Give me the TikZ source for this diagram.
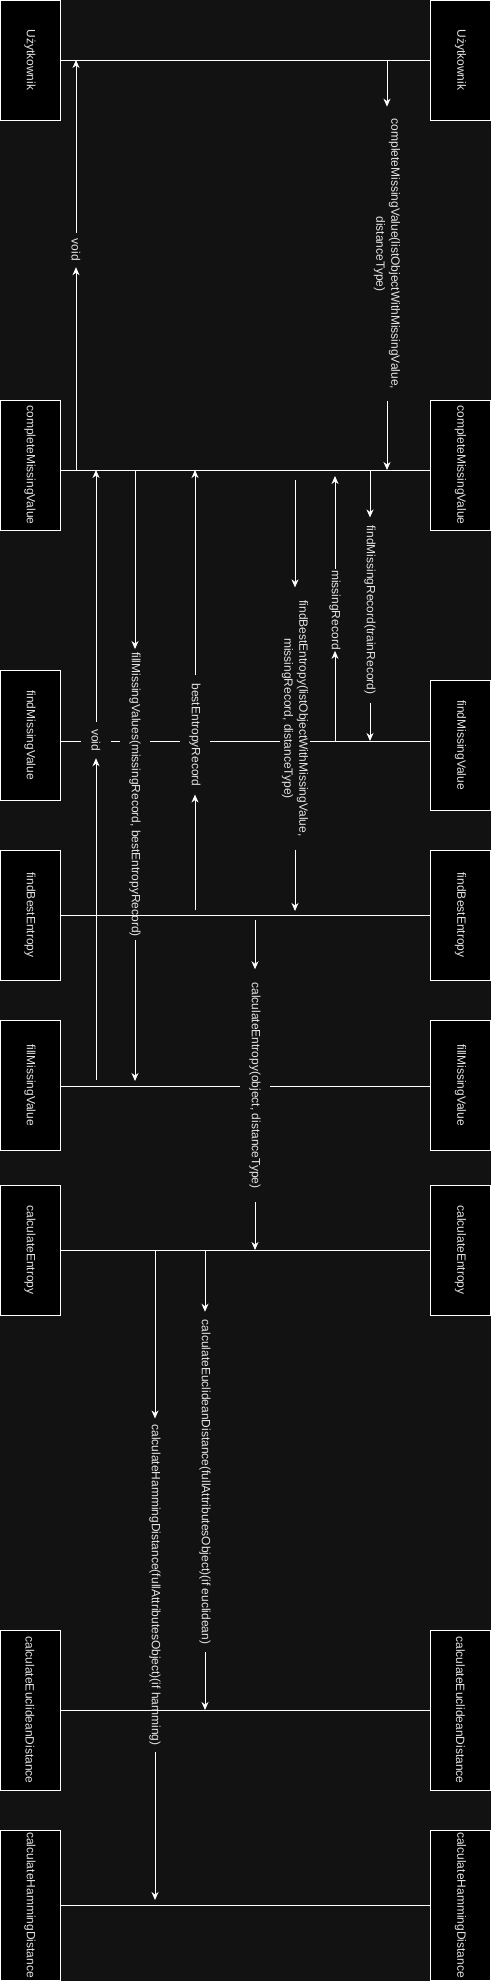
\documentclass[tikz,border=0pt]{standalone}
\usepackage{fontspec}
\setmainfont{Liberation Sans}
\usepackage{graphicx}
\usetikzlibrary{arrows.meta}
\definecolor{bgc}{RGB}{18,18,18}
\definecolor{txtc}{RGB}{228,228,228}

\begin{document}
\begin{tikzpicture}[x=1pt,y=-1pt,
  lifebox/.style={draw=white, line width=1pt, fill=black, text=txtc,
    minimum width=60pt, inner sep=0pt, font=\fontsize{12}{15}\selectfont},
  msglbl/.style={rotate=-90, fill=bgc, text=txtc, inner xsep=#1, inner ysep=0pt,
    minimum height=30pt, align=center, font=\fontsize{12}{15}\selectfont},
  msglbl/.default=6pt,
  rowline/.style={draw=white, line width=1pt},
  msg/.style={draw=white, line width=1pt, -{Stealth[length=8pt,width=7pt,inset=2.5pt]}}]

  \fill[bgc] (0,0) rectangle (491,1981);
  \useasboundingbox (0,0) rectangle (491,1981);

  %% lifelines, left side
  \node[lifebox, minimum height=120pt] (uL)   at (30,60)   {\rotatebox{-90}{Użytkownik}};
  \node[lifebox, minimum height=130pt] (cmvL) at (30,465)  {\rotatebox{-90}{completeMissingValue}};
  \node[lifebox, minimum height=130pt] (fmvL) at (30,735)  {\rotatebox{-90}{findMissingValue}};
  \node[lifebox, minimum height=130pt] (fbeL) at (30,915)  {\rotatebox{-90}{findBestEntropy}};
  \node[lifebox, minimum height=130pt] (filL) at (30,1085) {\rotatebox{-90}{fillMissingValue}};
  \node[lifebox, minimum height=130pt] (ceL)  at (30,1250) {\rotatebox{-90}{calculateEntropy}};
  \node[lifebox, minimum height=160pt] (eucL) at (30,1710) {\rotatebox{-90}{calculateEuclideanDistance}};
  \node[lifebox, minimum height=150pt] (hamL) at (30,1905) {\rotatebox{-90}{calculateHammingDistance}};

  %% lifelines, right side
  \node[lifebox, minimum height=120pt] (uR)   at (460.5,60)   {\rotatebox{-90}{Użytkownik}};
  \node[lifebox, minimum height=130pt] (cmvR) at (460.5,465)  {\rotatebox{-90}{completeMissingValue}};
  \node[lifebox, minimum height=130pt] (fmvR) at (460.5,745)  {\rotatebox{-90}{findMissingValue}};
  \node[lifebox, minimum height=130pt] (fbeR) at (460.5,915)  {\rotatebox{-90}{findBestEntropy}};
  \node[lifebox, minimum height=130pt] (filR) at (460.5,1085) {\rotatebox{-90}{fillMissingValue}};
  \node[lifebox, minimum height=130pt] (ceR)  at (460.5,1250) {\rotatebox{-90}{calculateEntropy}};
  \node[lifebox, minimum height=160pt] (eucR) at (460.5,1710) {\rotatebox{-90}{calculateEuclideanDistance}};
  \node[lifebox, minimum height=150pt] (hamR) at (460.5,1905) {\rotatebox{-90}{calculateHammingDistance}};

  %% rows
  \coordinate (rU)   at (0,60);
  \coordinate (rCMV) at (0,470);
  \coordinate (rFMV) at (0,741);
  \coordinate (rFBE) at (0,915);
  \coordinate (rFil) at (0,1086);
  \coordinate (rCE)  at (0,1250);
  \coordinate (rEuc) at (0,1710);
  \coordinate (rHam) at (0,1905);

  \draw[rowline] (uL.east |- rU) -- (uR.west |- rU);
  \draw[rowline] (cmvL.east |- rCMV) -- (cmvR.west |- rCMV);
  \draw[rowline] (fmvL.east |- rFMV) -- (fmvR.west |- rFMV);
  \draw[rowline] (filL.east |- rFil) -- (filR.west |- rFil);
  \draw[rowline] (ceL.east |- rCE) -- (ceR.west |- rCE);

  %% message labels
  \node[msglbl=12pt] (mCMV)  at (387,254)    {completeMissingValue(listObjectWithMissingValue,\\distanceType)};
  \node[msglbl=6pt]  (mVoidA) at (76,250)    {void};
  \node[msglbl=7pt]  (mVoidB) at (96,740)    {void};
  \node[msglbl=3pt]  (mFill) at (135,794.5)  {fillMissingValues(missingRecord, bestEntropyRecord)};
  \node[msglbl=8pt]  (mBest) at (195,735)    {bestEntropyRecord};
  \node[msglbl=13pt] (mFBE)  at (295,718.5)  {findBestEntropy(listObjectWithMissingValue,\\missingRecord, distanceType)};
  \node[msglbl=1pt]  (mMiss) at (335,610)    {missingRecord};
  \node[msglbl=8pt]  (mFMR)  at (370,610)    {findMissingRecord(trainRecord)};
  \node[msglbl=13pt] (mCE)   at (255,1085.5) {calculateEntropy(object, distanceType)};
  \node[msglbl=8pt]  (mEuc)  at (205,1482)   {calculateEuclideanDistance(fullAttributesObject)(if euclidean)};
  \node[msglbl=6pt]  (mHam)  at (155,1585)   {calculateHammingDistance(fullAttributesObject)(if hamming)};

  %% calls (down) and returns (up)
  \draw[msg] (mCMV |- rU) -- (mCMV.west);
  \draw[msg] (mCMV.east) -- (mCMV |- rCMV);
  \draw[msg] (mVoidA |- rCMV) -- (mVoidA.east);
  \draw[msg] (mVoidA.west) -- (mVoidA |- rU);

  \draw[msg] (mFMR |- rCMV) -- (mFMR.west);
  \draw[msg] (mFMR.east) -- (mFMR |- rFMV);
  \draw[msg] (mMiss |- rFMV) -- (mMiss.east);
  \draw[msg, shorten >=6pt] (mMiss.west) -- (mMiss |- rCMV);

  \draw[msg, shorten <=10pt] (mFBE |- rCMV) -- (mFBE.west);
  \draw[msg, shorten >=4pt] (mFBE.east) -- (mFBE |- rFBE);
  \draw[msg, shorten <=5pt] (mBest |- rFBE) -- (mBest.east);
  \draw[msg] (mBest.west) -- (mBest |- rCMV);

  \draw[msg] (mFill |- rCMV) -- (mFill.west);
  \draw[msg, shorten >=5pt] (mFill.east) -- (mFill |- rFil);
  \draw[msg, shorten <=6pt] (mVoidB |- rFil) -- (mVoidB.east);
  \draw[msg] (mVoidB.west) -- (mVoidB |- rCMV);

  \draw[msg, shorten <=5pt] (mCE |- rFBE) -- (mCE.west);
  \draw[msg] (mCE.east) -- (mCE |- rCE);

  \draw[msg] (mEuc |- rCE) -- (mEuc.west);
  \draw[msg] (mEuc.east) -- (mEuc |- rEuc);
  \draw[msg] (mHam |- rCE) -- (mHam.west);
  \draw[msg, shorten >=5pt] (mHam.east) -- (mHam |- rHam);

  %% rows drawn over the labels
  \draw[rowline] (fbeL.east |- rFBE) -- (fbeR.west |- rFBE);
  \draw[rowline] (eucL.east |- rEuc) -- (eucR.west |- rEuc);
  \draw[rowline] (hamL.east |- rHam) -- (hamR.west |- rHam);

\end{tikzpicture}
\end{document}
